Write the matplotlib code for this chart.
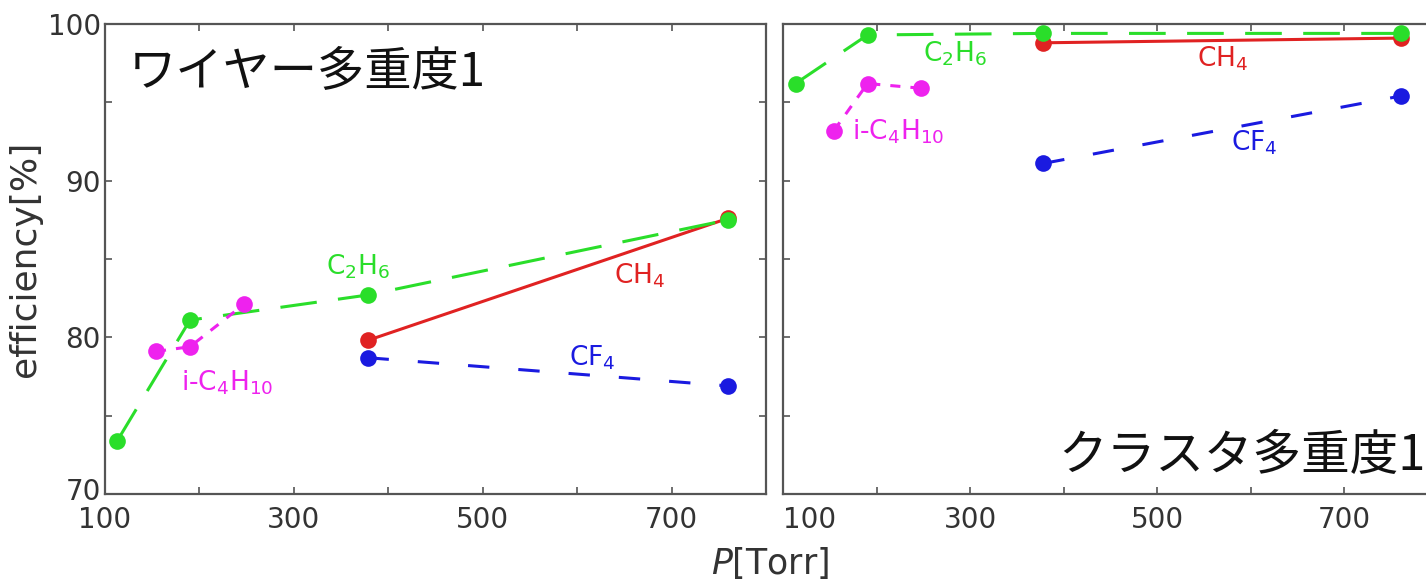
import matplotlib
matplotlib.use("Agg")
import matplotlib.pyplot as plt
from matplotlib.transforms import ScaledTranslation

plt.rcParams['font.family'] = ['DejaVu Sans', 'Noto Sans CJK JP']
plt.rcParams['mathtext.fontset'] = 'dejavusans'
plt.rcParams['mathtext.default'] = 'regular'

# ---- data ----
P_c2h6 = [113, 190, 378, 760]
wire_c2h6 = [73.4, 81.1, 82.7, 87.5]
cluster_c2h6 = [96.2, 99.3, 99.4, 99.4]

P_ch4 = [378, 760]
wire_ch4 = [79.8, 87.6]
cluster_ch4 = [98.8, 99.1]

P_cf4 = [378, 760]
wire_cf4 = [78.7, 76.9]
cluster_cf4 = [91.1, 95.4]

P_ic4h10 = [154, 190, 247]
wire_ic4h10 = [79.1, 79.4, 82.1]
cluster_ic4h10 = [93.2, 96.2, 95.9]

x_tick_pos = [100, 200, 300, 400, 500, 600, 700, 800]
x_tick_labels = ["100", "", "300", "", "500", "", "700", ""]
y_tick_pos = [70, 75, 80, 85, 90, 95, 100]
y_tick_labels = ["70", "", "80", "", "90", "", "100"]

panel_titles = ["ワイヤー多重度1", "クラスタ多重度1"]
gas_names = [r"$C_2H_6$", r"$CH_4$", r"$CF_4$", r"$i$-$C_4H_{10}$"]

# ---- styles ----
GREEN = "#2ade2a"
RED = "#e02222"
BLUE = "#1a1ae0"
MAG = "#ee22ee"
LW = 2.2
MS = 12
AXC = '#555555'
TXC = '#333333'

fig = plt.figure(figsize=(14.26, 5.83), dpi=100)
W, H = 1426, 583
axL = fig.add_axes([105 / W, 1 - 494 / H, 661 / W, 470 / H])
axR = fig.add_axes([783.4 / W, 1 - 494 / H, 654.5 / W, 470 / H])

series = [
    (P_ch4, wire_ch4, cluster_ch4, RED, None),
    (P_c2h6, wire_c2h6, cluster_c2h6, GREEN, (12, 7)),
    (P_cf4, wire_cf4, cluster_cf4, BLUE, (7, 9.5)),
    (P_ic4h10, wire_ic4h10, cluster_ic4h10, MAG, (3.3, 3.3)),
]

for ax, which in ((axL, 0), (axR, 1)):
    for xs, yw, yc, col, dash in series:
        ys = yw if which == 0 else yc
        line, = ax.plot(xs, ys, color=col, lw=LW, marker='o', ms=MS,
                        markeredgewidth=0, solid_capstyle='butt',
                        dash_capstyle='butt')
        if dash is not None:
            line.set_dashes(dash)
    ax.set_xlim(100, 800)
    ax.set_ylim(70, 100)
    ax.tick_params(direction='in', length=5, width=1.2, color=AXC,
                   top=True, right=True, labelsize=20, labelcolor=TXC)
    ax.tick_params(axis='x', pad=9)
    ax.tick_params(axis='y', pad=3)
    for s in ax.spines.values():
        s.set_color(AXC)
        s.set_linewidth(1.6)
    ax.set_xticks(x_tick_pos)
    ax.set_xticklabels(x_tick_labels)
    ax.set_yticks(y_tick_pos)

axL.set_yticklabels(y_tick_labels)
axR.set_yticklabels([])
axR.get_xticklabels()[0].set_horizontalalignment('left')
# nudge the lowest y label up slightly, as in the reference
lab70 = axL.get_yticklabels()[0]
lab70.set_transform(lab70.get_transform() + ScaledTranslation(0, 5 / 100, fig.dpi_scale_trans))

axL.set_ylabel("efficiency[%]", fontsize=26, color=TXC, labelpad=4)
fig.text(770 / W, 1 - 563 / H, r"$\mathit{P}$[Torr]", fontsize=25,
         color=TXC, ha='center', va='center')

# panel titles
axL.text(125, 96.9, panel_titles[0], fontsize=34, ha='left', va='center',
         family=['Noto Sans CJK JP', 'DejaVu Sans'], color='#111111')
axR.text(394, 72.4, panel_titles[1], fontsize=35, ha='left', va='center',
         family=['Noto Sans CJK JP', 'DejaVu Sans'], color='#111111')

# gas labels (left panel)
FS = 19
axL.text(368, 84.5, gas_names[0], color=GREEN, fontsize=FS, ha='center', va='center')
axL.text(666, 83.9, gas_names[1], color=RED, fontsize=FS, ha='center', va='center')
axL.text(616, 78.7, gas_names[2], color=BLUE, fontsize=FS, ha='center', va='center')
axL.text(229, 77.1, gas_names[3], color=MAG, fontsize=FS, ha='center', va='center')

# gas labels (right panel)
axR.text(284, 98.1, gas_names[0], color=GREEN, fontsize=FS, ha='center', va='center')
axR.text(570, 97.8, gas_names[1], color=RED, fontsize=FS, ha='center', va='center')
axR.text(604, 92.4, gas_names[2], color=BLUE, fontsize=FS, ha='center', va='center')
axR.text(223, 93.1, gas_names[3], color=MAG, fontsize=FS, ha='center', va='center')

fig.savefig("out.png", dpi=100)
